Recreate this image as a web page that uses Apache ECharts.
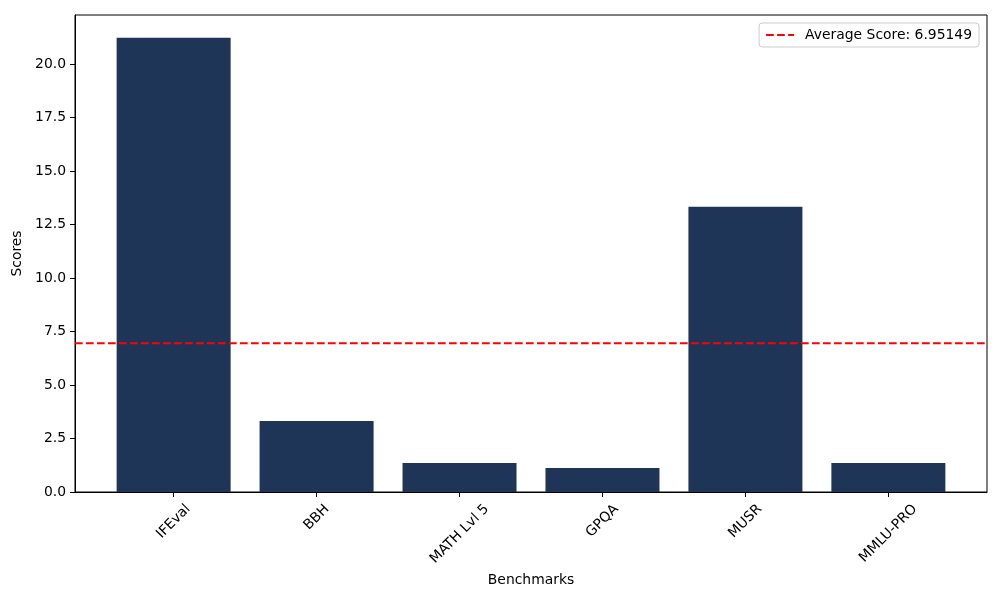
<!DOCTYPE html>
<html>
<head>
<meta charset="utf-8">
<script src="https://cdn.jsdelivr.net/npm/echarts@6/dist/echarts.min.js"></script>
<style>html,body{margin:0;padding:0;background:#fff}#c{width:1000px;height:600px}</style>
</head>
<body>
<div id="c"></div>
<script>
const categories = ['IFEval', 'BBH', 'MATH Lvl 5', 'GPQA', 'MUSR', 'MMLU-PRO'];
const scores = [21.23, 3.32, 1.355, 1.12, 13.33, 1.355];
const avgScore = 6.95149;
const yTicks = [0, 2.5, 5, 7.5, 10, 12.5, 15, 17.5, 20];
const xTicks = [0, 1, 2, 3, 4, 5];

const FONT = 'DejaVu Sans';
const FS = 13.9;

// measure label widths to mimic matplotlib rotated-label placement
const cv = document.createElement('canvas').getContext('2d');
cv.font = FS + 'px "' + FONT + '"';
const rich = {};
categories.forEach((name, i) => {
  const w = cv.measureText(name).width;
  const h = 14;
  const P = (w + h) / 2;
  rich['l' + i] = { padding: [P, P, 0, 0], fontFamily: FONT, fontSize: FS, color: '#000' };
});

const chart = echarts.init(document.getElementById('c'), null, { renderer: 'canvas' });
chart.setOption({
  animation: false,
  backgroundColor: '#fff',
  textStyle: { fontFamily: FONT },
  grid: { left: 75, right: 13, top: 15, bottom: 108, show: true, borderColor: '#000', borderWidth: 1, backgroundColor: 'transparent' },
  legend: {
    right: 21, top: 23,
    data: ['Average Score: ' + avgScore],
    itemWidth: 28, itemHeight: 14,
    padding: [5, 7, 5, 6],
    borderColor: '#cccccc', borderWidth: 1, borderRadius: 3,
    backgroundColor: '#fff',
    itemStyle: { opacity: 0 },
    textStyle: { fontFamily: FONT, fontSize: FS, color: '#000', padding: [0, 0, 0, 6] }
  },
  xAxis: {
    type: 'value', min: -0.69, max: 5.69,
    name: 'Benchmarks', nameLocation: 'middle', nameGap: 77,
    nameTextStyle: { fontFamily: FONT, fontSize: FS, color: '#000', verticalAlign: 'top' },
    axisLine: { show: true, onZero: false, lineStyle: { color: '#000', width: 1 } },
    axisTick: { show: true, length: 5, lineStyle: { color: '#000' }, customValues: xTicks },
    splitLine: { show: false },
    axisLabel: {
      customValues: xTicks, rotate: 45, margin: 10, align: 'center', verticalAlign: 'middle',
      formatter: v => '{l' + Math.round(v) + '|' + categories[Math.round(v)] + '}',
      rich: rich
    }
  },
  yAxis: {
    type: 'value', min: 0, max: 22.29,
    name: 'Scores', nameLocation: 'middle', nameGap: 41,
    nameTextStyle: { fontFamily: FONT, fontSize: FS, color: '#000' },
    axisLine: { show: true, onZero: false, lineStyle: { color: '#000', width: 1 } },
    axisTick: { show: true, length: 5, lineStyle: { color: '#000' }, customValues: yTicks },
    splitLine: { show: false },
    axisLabel: {
      customValues: yTicks, margin: 9,
      fontFamily: FONT, fontSize: FS, color: '#000',
      formatter: v => v.toFixed(1)
    }
  },
  series: [
    {
      type: 'bar',
      data: scores.map((v, i) => [i, v]),
      barWidth: 114,
      itemStyle: { color: '#1f3557' },
      silent: true
    },
    {
      type: 'line',
      name: 'Average Score: ' + avgScore,
      data: [[-0.69, avgScore], [5.69, avgScore]],
      symbol: 'none',
      lineStyle: { color: '#ff0000', width: 2, type: [7.7, 3.3] },
      itemStyle: { color: '#ff0000' },
      z: 5
    }
  ]
});
</script>
</body>
</html>
